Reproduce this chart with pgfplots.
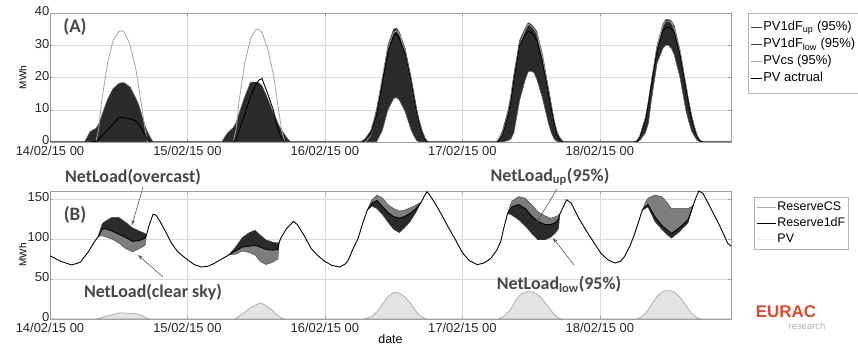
\documentclass[border=0pt]{standalone}
\usepackage{pgfplots}
\pgfplotsset{compat=1.18}
\usepackage{pgfplotstable}
\usepgfplotslibrary{fillbetween}
\usetikzlibrary{arrows.meta}
\usepackage{fontspec}
\setmainfont{Liberation Sans}
\newfontfamily\carl{Carlito}
\definecolor{dk}{HTML}{2B2B2B}
\definecolor{md}{HTML}{7D7D7D}
\definecolor{csg}{HTML}{A4A4A4}
\definecolor{anno}{HTML}{474747}
\definecolor{eurac}{HTML}{E4472F}

% top panel: PV (MWh), x in hours from 14/02/15 00
\pgfplotstableread{
h cs up lo act
0 0 0 0 0
6 0 0 0 0
6.5 0 1.5 0 0
7 0 3.2 0 0
8 0 4.2 0 0.2
8.5 4 5.5 0 0.8
9 12.5 8 0 1.8
10 24 13 0 3.6
11 31.5 16.5 0 5.6
12 34.3 18.1 0 7.5
12.5 34.5 18.4 0 7.7
13 34 18.3 0 7.5
14 30 17 0 7.2
15 22.5 13.5 0 6.5
15.5 17 11.5 0 5.5
16 11 8.5 0 4.3
16.5 5 5.5 0 2.5
17 0 3.2 0 0.8
17.5 0 1.5 0 0
18 0 0 0 0
30 0 0 0 0
30.5 0 1.5 0 0
31 0 2.8 0 0
32 0 4.5 0 0
32.5 4 6 0 0.8
33 12.5 8.8 0 3.5
34 24.5 14 0 8.5
35 32 18.5 0 14
36 35 18.6 0 18
36.5 34.8 18.3 0 19.2
37 34 17.5 0 19.7
38 29 13.5 0 15
39 21 9 0 9.9
39.5 15 7 0 6
40 9 5 0 3
40.5 3 3.5 0 1
41 0 2.2 0 0
41.5 0 1 0 0
42 0 0 0 0
54 0 0 0 0
54.5 0 0.3 0 0
55 0 1 0 0.5
56 2 3.5 0 2.5
56.5 5 6.5 0 5
57 9 10 0 8.5
58 20 19.5 3.5 18
59 29 30 10 28
60 34 35 13.5 33
60.5 34.5 35.3 13.8 33.5
61 33.5 34 13 32
62 28 29 9.5 27.5
63 19 20.5 4 19
63.5 14 15.5 2 14
64 9 10.5 0.5 9
64.5 5 6.5 0 5
65 2 3.5 0 2
65.5 0.5 1.2 0 0.5
66 0 0 0 0
78 0 0 0 0
78.5 0.5 1.5 0 0.5
79 2.5 3.5 0 2
80 9 10 0.5 8.5
80.5 14 15 1 13
81 20 21 3 19.5
82 30 31.5 13 30
83 35 35.5 19.5 33.5
83.5 36.5 37 21.8 34.3
84 36 36.5 22 34
84.5 35 35.5 21.5 33
85 33.5 34.3 19.5 31.5
86 26 27 13.5 24.5
87 16 17 6 15.5
87.5 11 12 3 10.5
88 6.5 7 1 6
88.5 3 3.5 0.2 2.5
89 1 1.5 0 0.8
89.5 0 0.3 0 0
90 0 0 0 0
102 0 0 0 0
102.5 0.3 0.5 0 0.2
103 1.5 2 0.5 1.5
104 7.5 8 3 7
104.5 12.5 13 6 12
105 18.5 19 13 18
106 29.5 30 24.5 28.5
107 36 36.5 29 34.5
107.5 37.5 38 30 35.5
108 37.5 38 30 35.5
108.5 37 37.5 29 35
109 35 36 27 34
110 28 28.5 20 27
111 18 18 10 17
111.5 12.5 13 6.5 12
112 8 8.5 3.5 7.5
112.5 4.5 5 1.8 4
113 1.5 2 0.5 1.5
113.5 0.3 0.5 0 0.3
114 0 0 0 0
118.9 0 0 0 0
}\pvtab

% bottom panel: net load line (MWh)
\pgfplotstableread{
h L
0 79
1.9 72
3.8 67.5
5.3 71
6.7 84
7.9 98
8.4 103
9.1 112
9.6 113
10.8 110
12.0 106
13.2 102
14.4 97
15.6 98
16.6 101
16.8 104
17.3 117
18.0 131
18.5 130
19.2 122
20.2 109
21.1 96
22.3 84
24.0 74
25.2 68
26.4 65
27.6 66
28.8 70
30.0 75
31.2 80
32.4 85
33.6 90
34.8 91
35.8 92
36.7 90
37.7 87
38.9 86
39.8 87
40.0 95.5
40.3 101
41.3 113
42.5 122
43.2 118
44.4 104
45.6 88
46.8 79
48.0 72
49.2 67
50.6 65
51.6 69
52.1 74
52.8 86
53.8 101
54.7 122
55.4 136
56.2 145
57.1 148
58.1 140
59.0 133
60.0 128
61.0 126
61.9 128
62.9 132
63.8 137
64.8 146
65.3 153
65.8 159
66.2 156
67.2 145
68.4 130
69.6 114
70.8 99
72.0 83
73.2 73
74.6 68
75.8 70
77.0 76
78.0 86
78.7 97
79.2 113
79.9 132
80.6 140
81.8 143
83.0 138
84.2 128
85.2 122
86.4 118
87.4 118
88.3 121
88.8 125
89.0 131
89.8 143
90.2 149
91.0 145
92.4 125
94.1 105
96.2 82
97.4 74
98.6 70
99.6 72
100.3 78
101.3 92
102.0 105
102.7 120
103.4 136
103.9 140
104.4 143
105.6 128
106.8 117
107.8 111
108.5 107
109.9 114
111.4 124
112.3 142
112.8 152
113.3 160
114.0 157
115.4 138
116.9 117
118.3 95
118.9 91
}\nltab

\pgfplotstableread{
h T M B
8.4 103 103 103
9.1 119 112 104
9.6 122 113 103
10.8 127 110 100
12.0 127 106 95
13.2 121 102 88
14.4 114 97 84
15.6 110 98 88
16.6 107 101 92
16.8 105 104 103
}\bandA
\pgfplotstableread{
h T M B
31.2 80 80 80
32.4 90 85 81
33.6 102 90 85
34.8 108 91 83
35.8 111 92 80
36.7 105 90 72
37.7 99 87 68
38.9 96 86 71
39.8 95 87 75
40.0 96 95.5 95
}\bandB
\pgfplotstableread{
h T M B
55.4 136 136 136
56.2 149 145 141
57.1 155 148 138
58.1 151 140 130
59.0 143 133 121
60.0 138 128 112
61.0 135 126 108
61.9 136 128 114
62.9 139 132 122
63.8 142 137 132
64.8 146 146 146
}\bandC
\pgfplotstableread{
h T M B
79.9 132 132 132
80.6 147 140 130
81.8 153 143 124
83.0 151 138 116
84.2 142 128 106
85.2 134 122 99
86.4 129 118 99
87.4 126 118 102
88.3 128 121 108
88.8 130 125 113
89.0 131 131 131
}\bandD
\pgfplotstableread{
h T M B
103.4 136 136 136
103.9 145 140 138
104.4 151 143 140
105.6 155 128 122
106.8 153 117 112
107.8 145 111 105
108.5 138 107 101
109.9 138 114 109
111.4 138 124 120
112.3 142 142 142
}\bandE

\pgfplotsset{
  panel/.style={
    scale only axis, width=681bp, xmin=0, xmax=118.9,
    xtick={0,24,48,72,96},
    xticklabels={14/02/15 00,15/02/15 00,16/02/15 00,17/02/15 00,18/02/15 00},
    grid=major, major grid style={gray!30, line width=0.4pt},
    axis line style={gray!75}, tick style={gray!75}, tick align=inside,
    major tick length=3bp,
    ticklabel style={font=\fontsize{13}{15}\selectfont, text=black!85, inner sep=1bp},
    /pgf/number format/assume math mode=true,
    xticklabel style={yshift=-2.5bp},
    yticklabel style={xshift=0.5bp, yshift=1.5bp},
    ylabel style={font=\fontsize{10}{12}\selectfont, at={(axis description cs:-0.04,0.5)}, anchor=center},
    legend cell align=left,
    legend style={draw=gray!60, fill=white,
      /tikz/every even column/.append style={column sep=1bp}},
  },
}

\begin{document}
\begin{tikzpicture}
% ---------------- (A) ----------------
\begin{axis}[panel, at={(50bp,205bp)}, anchor=south west, height=129bp,
  ymin=0, ymax=40, ytick={0,10,20,30,40}, ylabel={MWh},
  legend image code/.code={\draw[#1] (0bp,0bp) -- (11bp,0bp);},
  legend style={at={(1.025,1)}, anchor=north west, font=\fontsize{13}{15}\selectfont,
    inner xsep=2bp, inner ysep=7bp, row sep=2bp,
    nodes={inner sep=1.2bp, text depth=3bp, text height=9.5bp}}]
\addplot[draw=none, name path=pvup, forget plot] table[x=h, y=up]{\pvtab};
\addplot[draw=none, name path=pvlo, forget plot] table[x=h, y=lo]{\pvtab};
\addplot[fill=dk, draw=none, forget plot] fill between[of=pvup and pvlo];
\addplot[color=black!65, line width=0.6pt, forget plot] table[x=h, y=up]{\pvtab};
\addplot[color=black!65, line width=0.6pt, forget plot] table[x=h, y=lo]{\pvtab};
\addplot[color=csg, line width=0.8pt, forget plot] table[x=h, y=cs]{\pvtab};
\addplot[color=black, line width=0.9pt, forget plot] table[x=h, y=act]{\pvtab};
\addlegendimage{color=black!75, line width=0.8pt}
\addlegendentry{PV1dF\textsubscript{up} (95\%)}
\addlegendimage{color=black!75, line width=0.8pt}
\addlegendentry{PV1dF\textsubscript{low} (95\%)}
\addlegendimage{color=csg, line width=0.8pt}
\addlegendentry{PVcs (95\%)}
\addlegendimage{color=black, line width=0.9pt}
\addlegendentry{PV actrual}
\end{axis}

% ---------------- (B) ----------------
\begin{axis}[panel, at={(50bp,28bp)}, anchor=south west, height=128bp,
  ymin=0, ymax=160, ytick={0,50,100,150}, ylabel={MWh},
  xlabel={date}, xlabel style={font=\fontsize{12.5}{14}\selectfont, at={(axis description cs:0.5,-0.158)}, anchor=center},
  legend image code/.code={\draw[#1] (0bp,0bp) -- (19bp,0bp);},
  legend style={at={(1.034,0.953)}, anchor=north west, font=\fontsize{12.5}{14}\selectfont,
    inner xsep=2bp, inner ysep=2.5bp, row sep=1bp,
    nodes={inner sep=1.2bp, text depth=3bp, text height=9.5bp}}]
\addplot[fill=gray!22, draw=gray!75, line width=0.6pt, forget plot] table[x=h, y=act]{\pvtab} \closedcycle;
% day bands
\addplot[draw=none, name path=aT, forget plot] table[x=h, y=T]{\bandA};
\addplot[draw=none, name path=aM, forget plot] table[x=h, y=M]{\bandA};
\addplot[draw=none, name path=aB, forget plot] table[x=h, y=B]{\bandA};
\addplot[fill=dk, draw=none, forget plot] fill between[of=aT and aM];
\addplot[fill=md, draw=none, forget plot] fill between[of=aM and aB];
\addplot[draw=none, name path=bT, forget plot] table[x=h, y=T]{\bandB};
\addplot[draw=none, name path=bM, forget plot] table[x=h, y=M]{\bandB};
\addplot[draw=none, name path=bB, forget plot] table[x=h, y=B]{\bandB};
\addplot[fill=dk, draw=none, forget plot] fill between[of=bT and bM];
\addplot[fill=md, draw=none, forget plot] fill between[of=bM and bB];
\addplot[draw=none, name path=cT, forget plot] table[x=h, y=T]{\bandC};
\addplot[draw=none, name path=cM, forget plot] table[x=h, y=M]{\bandC};
\addplot[draw=none, name path=cB, forget plot] table[x=h, y=B]{\bandC};
\addplot[fill=md, draw=none, forget plot] fill between[of=cT and cM];
\addplot[fill=dk, draw=none, forget plot] fill between[of=cM and cB];
\addplot[draw=none, name path=dT, forget plot] table[x=h, y=T]{\bandD};
\addplot[draw=none, name path=dM, forget plot] table[x=h, y=M]{\bandD};
\addplot[draw=none, name path=dB, forget plot] table[x=h, y=B]{\bandD};
\addplot[fill=md, draw=none, forget plot] fill between[of=dT and dM];
\addplot[fill=dk, draw=none, forget plot] fill between[of=dM and dB];
\addplot[draw=none, name path=eT, forget plot] table[x=h, y=T]{\bandE};
\addplot[draw=none, name path=eM, forget plot] table[x=h, y=M]{\bandE};
\addplot[draw=none, name path=eB, forget plot] table[x=h, y=B]{\bandE};
\addplot[fill=md, draw=none, forget plot] fill between[of=eT and eM];
\addplot[fill=dk, draw=none, forget plot] fill between[of=eM and eB];
\addplot[color=black!75, line width=0.4pt, forget plot] table[x=h, y=T]{\bandA};
\addplot[color=black!75, line width=0.4pt, forget plot] table[x=h, y=B]{\bandA};
\addplot[color=black!75, line width=0.4pt, forget plot] table[x=h, y=T]{\bandB};
\addplot[color=black!75, line width=0.4pt, forget plot] table[x=h, y=B]{\bandB};
\addplot[color=black!75, line width=0.4pt, forget plot] table[x=h, y=T]{\bandC};
\addplot[color=black!75, line width=0.4pt, forget plot] table[x=h, y=B]{\bandC};
\addplot[color=black!75, line width=0.4pt, forget plot] table[x=h, y=T]{\bandD};
\addplot[color=black!75, line width=0.4pt, forget plot] table[x=h, y=B]{\bandD};
\addplot[color=black!75, line width=0.4pt, forget plot] table[x=h, y=T]{\bandE};
\addplot[color=black!75, line width=0.4pt, forget plot] table[x=h, y=B]{\bandE};
\addplot[color=black, line width=0.9pt, forget plot] table[x=h, y=L]{\nltab};
\addlegendimage{color=csg, line width=0.8pt}
\addlegendentry{ReserveCS}
\addlegendimage{color=black, line width=0.9pt}
\addlegendentry{Reserve1dF}
\addlegendimage{color=gray!15, line width=0.8pt}
\addlegendentry{PV}
\end{axis}

% annotations
\node[font=\carl\bfseries\fontsize{19}{20}\selectfont, text=anno] at (75bp,320bp) {(A)};
\node[font=\carl\bfseries\fontsize{19}{20}\selectfont, text=anno] at (75bp,132bp) {(B)};
\node[font=\carl\bfseries\fontsize{18}{20}\selectfont, text=anno] at (133bp,170bp) {NetLoad(overcast)};
\node[font=\carl\bfseries\fontsize{18}{20}\selectfont, text=anno] at (153bp,55bp) {NetLoad(clear sky)};
\node[font=\carl\bfseries\fontsize{18}{20}\selectfont, text=anno] at (550bp,170bp) {NetLoad\textsubscript{up}(95\%)};
\node[font=\carl\bfseries\fontsize{18}{20}\selectfont, text=anno] at (559bp,63bp) {NetLoad\textsubscript{low}(95\%)};
\draw[gray!70!black, line width=0.6pt, -{Stealth[length=5pt,width=3.5pt]}] (143bp,160bp) -- (132bp,122bp);
\draw[gray!70!black, line width=0.6pt, -{Stealth[length=5pt,width=3.5pt]}] (163bp,70bp) -- (138bp,92bp);
\draw[gray!70!black, line width=0.6pt, -{Stealth[length=5pt,width=3.5pt]}] (557bp,158bp) -- (537bp,125bp);
\draw[gray!70!black, line width=0.6pt, -{Stealth[length=5pt,width=3.5pt]}] (574bp,82bp) -- (553bp,109bp);
\node[font=\bfseries\fontsize{17}{18}\selectfont, text=eurac] at (786bp,35bp) {EURAC};
\node[font=\fontsize{9.5}{10}\selectfont, text=gray!60] at (807bp,21bp) {research};

\pgfresetboundingbox
\useasboundingbox (0bp,0bp) rectangle (858bp,347bp);
\end{tikzpicture}
\end{document}
